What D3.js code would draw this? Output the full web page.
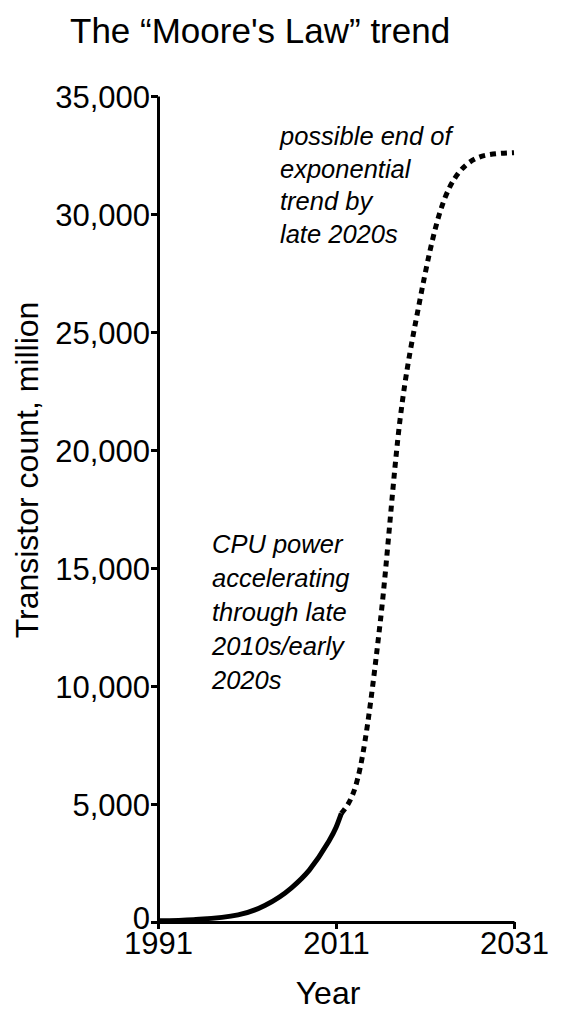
<!DOCTYPE html>
<html><head><meta charset="utf-8">
<script src="https://cdn.jsdelivr.net/npm/d3@7"></script>
<style>body{margin:0;background:#fff}text{font-family:"Liberation Sans",Arial,sans-serif}</style>
</head><body>
<svg id="chart" width="565" height="1024"></svg>
<script>
// measured trend (solid) and projected trend (dashed)
var solidYears = [1991, 1995, 2000, 2003, 2006, 2008, 2010, 2011, 2011.6];
var solidValues = [50, 100, 300, 700, 1450, 2200, 3300, 4000, 4600];
var dashYears = [2011.6, 2013.7, 2016, 2018.2, 2020.4, 2022.7, 2024.9, 2028, 2031];
var dashValues = [4600, 6500, 12800, 21300, 26300, 30100, 31800, 32500, 32600];
var xTicks = [1991, 2011, 2031];
var yTicks = [0, 5000, 10000, 15000, 20000, 25000, 30000, 35000];

var svg = d3.select("#chart");
var x = d3.scaleLinear().domain([1991, 2031]).range([158, 514]);
var y = d3.scaleLinear().domain([0, 35000]).range([922, 96]);

var fmt = d3.format(",");

var yAxis = svg.append("g").attr("transform", "translate(158,0)")
  .call(d3.axisLeft(y).tickValues(yTicks).tickFormat(fmt).tickSize(7).tickSizeOuter(0));
var xAxis = svg.append("g").attr("transform", "translate(0,922)")
  .call(d3.axisBottom(x).tickValues(xTicks).tickFormat(d3.format("d")).tickSize(7).tickSizeOuter(0));

[yAxis, xAxis].forEach(function(a){
  a.select(".domain").attr("stroke-width", 3).attr("stroke", "#000");
  a.selectAll(".tick line").attr("stroke-width", 3).attr("stroke", "#000");
  a.selectAll("text").attr("font-size", 31).attr("fill", "#000")
    .style("font-family", "Liberation Sans, Arial, sans-serif");
});
yAxis.selectAll("text").attr("x", -8).attr("dy", "0.36em");
yAxis.selectAll(".tick").filter(function(d){ return d === 0; }).select("text").attr("dy", "0.2em");
xAxis.selectAll("text").attr("y", 10);

var line = d3.line().x(function(d){ return x(d[0]); }).y(function(d){ return y(d[1]); })
  .curve(d3.curveMonotoneX);

svg.append("path").datum(d3.zip(solidYears, solidValues))
  .attr("d", line).attr("fill", "none").attr("stroke", "#000").attr("stroke-width", 5);
svg.append("path").datum(d3.zip(dashYears, dashValues))
  .attr("d", line).attr("fill", "none").attr("stroke", "#000").attr("stroke-width", 5)
  .attr("stroke-dasharray", "6,5");

svg.append("text").attr("x", 70).attr("y", 43).attr("font-size", 35).text("The \u201cMoore's Law\u201d trend");
svg.append("text").attr("x", 328).attr("y", 1004).attr("font-size", 32).attr("text-anchor", "middle").text("Year");
svg.append("text").attr("transform", "translate(38,470) rotate(-90)").attr("font-size", 32)
  .attr("text-anchor", "middle").text("Transistor count, million");

function note(lines, x0, y0, dy){
  var t = svg.append("text").attr("font-size", 25.5).attr("font-style", "italic");
  lines.forEach(function(s, i){
    t.append("tspan").attr("x", x0).attr("y", y0 + i * dy).text(s);
  });
}
note(["possible end of", "exponential", "trend by", "late 2020s"], 280, 145, 32.5);
note(["CPU power", "accelerating", "through late", "2010s/early", "2020s"], 212, 553, 34);
</script>
</body></html>
